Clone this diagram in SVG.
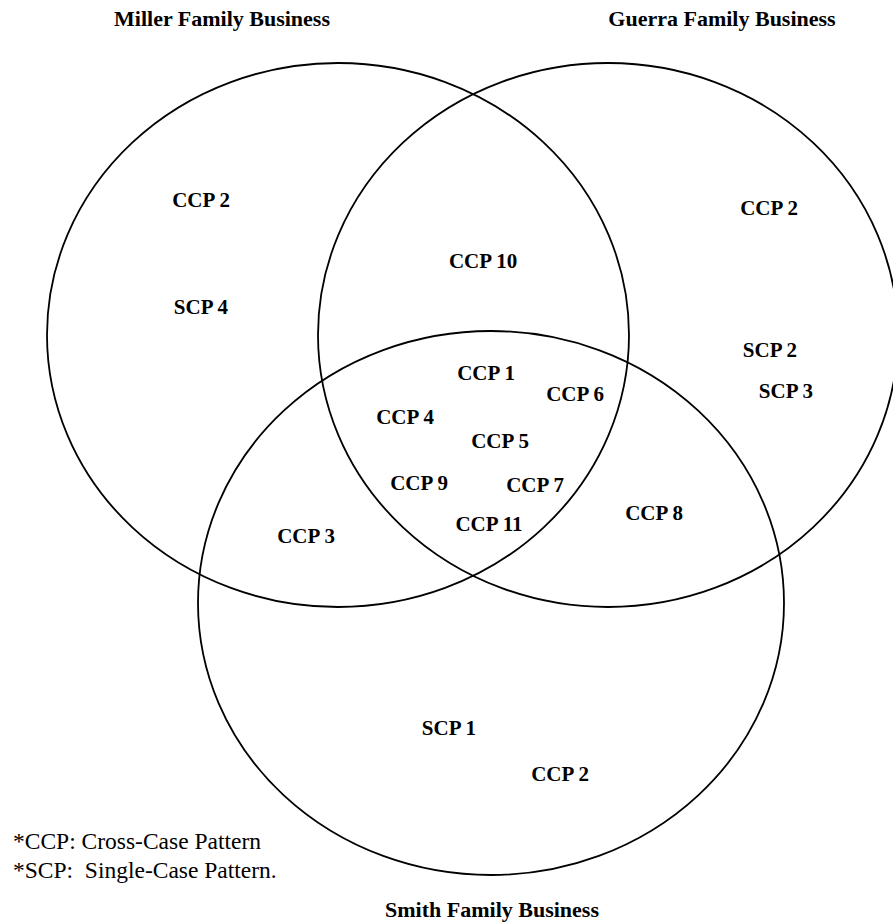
<svg xmlns="http://www.w3.org/2000/svg" width="893" height="923" viewBox="0 0 893 923">
  <style>
    .set { fill: none; stroke: #000; stroke-width: 1.8; }
    .title { font-family: "Liberation Serif", "Times New Roman", serif; font-weight: bold; font-size: 22px; text-anchor: middle; fill: #000; }
    .lbl { font-family: "Liberation Serif", "Times New Roman", serif; font-weight: bold; font-size: 21px; text-anchor: middle; fill: #000; }
    .note { font-family: "Liberation Serif", "Times New Roman", serif; font-size: 23.5px; fill: #000; white-space: pre; }
  </style>
  <rect width="893" height="923" fill="#fff"/>

  <!-- three overlapping sets -->
  <g id="connectors"></g>
  <g id="miller">
    <ellipse class="set" cx="338" cy="335" rx="291" ry="272"/>
    <text class="title" x="222" y="26">Miller Family Business</text>
  </g>
  <g id="guerra">
    <ellipse class="set" cx="608" cy="335" rx="290" ry="272"/>
    <text class="title" x="722" y="26">Guerra Family Business</text>
  </g>
  <g id="smith">
    <ellipse class="set" cx="491" cy="603" rx="293" ry="272"/>
    <text class="title" x="492" y="917">Smith Family Business</text>
  </g>

  <!-- patterns placed in the regions -->
  <g id="labels">
    <text class="lbl" x="201" y="207">CCP 2</text>
    <text class="lbl" x="201" y="314">SCP 4</text>
    <text class="lbl" x="483" y="268">CCP 10</text>
    <text class="lbl" x="769" y="215">CCP 2</text>
    <text class="lbl" x="770" y="357">SCP 2</text>
    <text class="lbl" x="786" y="398">SCP 3</text>
    <text class="lbl" x="486" y="380">CCP 1</text>
    <text class="lbl" x="575" y="401">CCP 6</text>
    <text class="lbl" x="405" y="424">CCP 4</text>
    <text class="lbl" x="500" y="448">CCP 5</text>
    <text class="lbl" x="419" y="490">CCP 9</text>
    <text class="lbl" x="535" y="492">CCP 7</text>
    <text class="lbl" x="489" y="531">CCP 11</text>
    <text class="lbl" x="654" y="520">CCP 8</text>
    <text class="lbl" x="306" y="543">CCP 3</text>
    <text class="lbl" x="449" y="735">SCP 1</text>
    <text class="lbl" x="560" y="781">CCP 2</text>
  </g>

  <g id="legend">
    <text class="note" x="13" y="849">*CCP: Cross-Case Pattern</text>
    <text class="note" x="13" y="878">*SCP:  Single-Case Pattern.</text>
  </g>
</svg>
